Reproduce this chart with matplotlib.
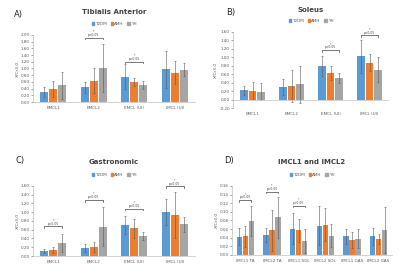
import numpy as np
import matplotlib
matplotlib.use("Agg")
import matplotlib.pyplot as plt
import matplotlib.patches as mpatches

GROUPS = ["T2DM", "AMH", "YH"]
COLORS = ["#5B9BD5", "#ED7D31", "#A5A5A5"]

# Panel A - Tibialis Anterior
a_cats = ["EMCL1", "EMCL2", "EMCL (UI)", "IMCL (UI)"]
a_t2dm = [0.31, 0.44, 0.76, 0.97]
a_amh = [0.40, 0.64, 0.61, 0.88]
a_yh = [0.50, 1.01, 0.52, 0.96]
a_t2dm_err = [0.15, 0.16, 0.37, 0.55]
a_amh_err = [0.24, 0.36, 0.12, 0.34]
a_yh_err = [0.40, 0.72, 0.12, 0.19]
a_sig = [(1, 1.92), (2, 1.20)]

# Panel B - Soleus
b_cats = ["EMCL1", "EMCL2", "EMCL (UI)", "IMCL (UI)"]
b_t2dm = [0.22, 0.30, 0.79, 1.02]
b_amh = [0.21, 0.33, 0.63, 0.87]
b_yh = [0.19, 0.36, 0.51, 0.71]
b_t2dm_err = [0.10, 0.18, 0.23, 0.38]
b_amh_err = [0.20, 0.38, 0.16, 0.20]
b_yh_err = [0.21, 0.44, 0.11, 0.29]
b_sig = [(2, 1.17), (3, 1.52)]

# Panel C - Gastronomic
c_cats = ["EMCL1", "EMCL2", "EMCL (UI)", "IMCL (UI)"]
c_t2dm = [0.12, 0.19, 0.71, 1.01]
c_amh = [0.13, 0.21, 0.63, 0.94]
c_yh = [0.30, 0.67, 0.46, 0.72]
c_t2dm_err = [0.05, 0.09, 0.21, 0.30]
c_amh_err = [0.07, 0.11, 0.22, 0.52]
c_yh_err = [0.21, 0.45, 0.09, 0.17]
c_sig = [(0, 0.68), (1, 1.28), (2, 1.08), (3, 1.59)]

# Panel D - IMCL1 and IMCL2
d_cats = ["IMCL1 TA", "IMCL2 TA", "IMCL1 SOL", "IMCL2 SOL", "IMCL1 GAS", "IMCL2 GAS"]
d_t2dm = [0.042, 0.047, 0.061, 0.068, 0.043, 0.043]
d_amh = [0.043, 0.057, 0.057, 0.070, 0.034, 0.037]
d_yh = [0.079, 0.087, 0.032, 0.045, 0.037, 0.058]
d_t2dm_err = [0.020, 0.016, 0.036, 0.046, 0.017, 0.019]
d_amh_err = [0.025, 0.047, 0.026, 0.038, 0.019, 0.012]
d_yh_err = [0.034, 0.048, 0.028, 0.026, 0.022, 0.053]
d_sig = [(0, 0.127), (1, 0.147), (2, 0.114)]


def draw_panel(fig, rect, letter, letter_xy, title, title_y, legend_y,
               cats, vals, errs, sig, ylim, ystep):
    ax = fig.add_axes(rect)
    x = np.arange(len(cats))
    w = 0.22
    for i in range(3):
        ax.bar(x + (i - 1) * w, vals[i], w * 0.92, color=COLORS[i],
               yerr=errs[i], error_kw=dict(ecolor="#595959", elinewidth=0.4,
                                           capsize=1.0, capthick=0.4))
    span = ylim[1] - ylim[0]
    for ci, yb in sig:
        x0, x1 = ci - w, ci + w
        h = span * 0.025
        ax.plot([x0, x0, x1, x1], [yb - h, yb, yb, yb - h], color="#404040",
                lw=0.5, clip_on=False)
        ax.text(ci, yb + span * 0.01, "*\np<0.05", ha="center", va="bottom",
                fontsize=2.2, color="#404040", linespacing=0.8)
    ax.set_xlim(-0.5, len(cats) - 0.5)
    ax.set_ylim(*ylim)
    ticks = np.arange(ylim[0], ylim[1] + ystep / 2, ystep)
    ax.set_yticks(ticks)
    ax.set_yticklabels(["{:.2f}".format(t + 0.0) for t in ticks])
    ax.set_xticks(x)
    ax.set_xticklabels(cats)
    ax.tick_params(axis="both", labelsize=3, colors="#595959", length=1.2,
                   width=0.4, pad=1)
    ax.tick_params(axis="x", length=0, pad=3)
    for s in ["top", "right"]:
        ax.spines[s].set_visible(False)
    for s in ["left", "bottom"]:
        ax.spines[s].set_color("#BFBFBF")
        ax.spines[s].set_linewidth(0.5)
    if ylim[0] < 0:
        ax.spines["bottom"].set_visible(False)
        ax.axhline(0, color="#BFBFBF", lw=0.5)
    ax.set_ylabel("X/Cr3.0", fontsize=3.2, color="#595959", labelpad=1)

    cx = rect[0] + rect[2] / 2
    fig.text(cx, title_y, title, ha="center", va="center", fontsize=5,
             fontweight="bold", color="#404040")
    handles = [mpatches.Patch(color=COLORS[i], label=GROUPS[i]) for i in range(3)]
    fig.legend(handles=handles, loc="center", bbox_to_anchor=(cx, legend_y),
               ncol=3, frameon=False, fontsize=3, handlelength=0.6,
               handleheight=0.6, handletextpad=0.3, columnspacing=0.8,
               borderpad=0.1, labelcolor="#595959")
    fig.text(letter_xy[0], letter_xy[1], letter, ha="left", va="center",
             fontsize=6, color="#262626")
    return ax


fig = plt.figure(figsize=(4.0, 2.75), dpi=100)
fig.patch.set_facecolor("white")

draw_panel(fig, [0.0825, 0.629, 0.405, 0.244], "A)", (0.035, 0.949),
           "Tibialis Anterior", 0.956, 0.913, a_cats,
           [a_t2dm, a_amh, a_yh], [a_t2dm_err, a_amh_err, a_yh_err], a_sig,
           (0, 2.0), 0.2)
draw_panel(fig, [0.5825, 0.607, 0.39, 0.277], "B)", (0.565, 0.953),
           "Soleus", 0.962, 0.924, b_cats,
           [b_t2dm, b_amh, b_yh], [b_t2dm_err, b_amh_err, b_yh_err], b_sig,
           (-0.2, 1.6), 0.2)
draw_panel(fig, [0.0825, 0.069, 0.405, 0.255], "C)", (0.04, 0.418),
           "Gastronomic", 0.411, 0.364, c_cats,
           [c_t2dm, c_amh, c_yh], [c_t2dm_err, c_amh_err, c_yh_err], c_sig,
           (0, 1.6), 0.2)
draw_panel(fig, [0.58, 0.073, 0.40, 0.251], "D)", (0.56, 0.418),
           "IMCL1 and IMCL2", 0.411, 0.364, d_cats,
           [d_t2dm, d_amh, d_yh], [d_t2dm_err, d_amh_err, d_yh_err], d_sig,
           (0, 0.16), 0.02)

fig.savefig("out.png", dpi=100)
